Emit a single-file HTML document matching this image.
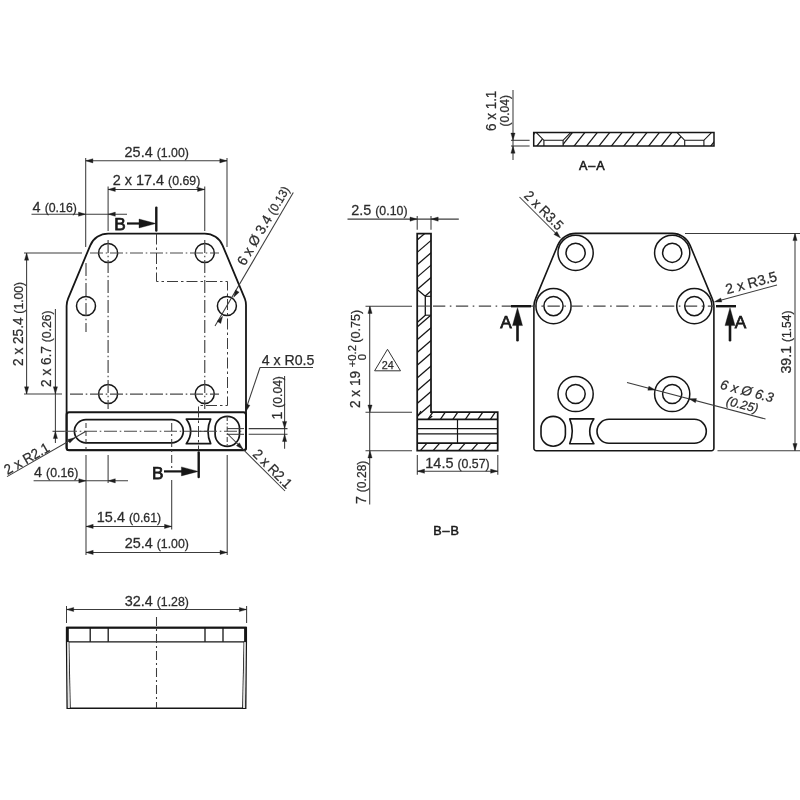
<!DOCTYPE html>
<html><head><meta charset="utf-8"><title>Dimensional drawing</title>
<style>
html,body{margin:0;padding:0;background:#fff;}
svg{display:block;font-family:"Liberation Sans",sans-serif;filter:grayscale(1);}
</style></head><body>
<svg width="800" height="800" viewBox="0 0 800 800">
<rect width="800" height="800" fill="#fff"/>
<path d="M66.60,447.70 L66.60,306.00 A19.4,19.4 0 0 1 68.09,298.53 L90.19,245.53 A19.4,19.4 0 0 1 108.10,233.60 L204.75,233.60 A19.4,19.4 0 0 1 222.66,245.53 L244.81,298.53 A19.4,19.4 0 0 1 246.00,306.00 L246.00,447.70 A2.5,2.5 0 0 1 243.50,450.20 L69.10,450.20 A2.5,2.5 0 0 1 66.60,447.70 Z" fill="none" stroke="#161616" stroke-width="1.8" stroke-linejoin="round"/>
<rect x="66.6" y="412.3" width="179.4" height="37.9" rx="2.5" ry="2.5" fill="none" stroke="#161616" stroke-width="2.0"/>
<circle cx="108.10" cy="253.00" r="9.50" fill="none" stroke="#161616" stroke-width="1.5"/>
<circle cx="204.75" cy="253.00" r="9.50" fill="none" stroke="#161616" stroke-width="1.5"/>
<circle cx="86.00" cy="306.00" r="9.50" fill="none" stroke="#161616" stroke-width="1.5"/>
<circle cx="226.90" cy="306.00" r="9.50" fill="none" stroke="#161616" stroke-width="1.5"/>
<circle cx="108.10" cy="394.00" r="9.50" fill="none" stroke="#161616" stroke-width="1.5"/>
<circle cx="204.75" cy="394.00" r="9.50" fill="none" stroke="#161616" stroke-width="1.5"/>
<path d="M86,419.6 L171.7,419.6 A11.6,11.6 0 0 1 171.7,442.8 L86,442.8 A11.6,11.6 0 0 1 86,419.6 Z" fill="none" stroke="#161616" stroke-width="1.7" stroke-linejoin="round"/>
<path d="M186.3,419.1 L210.7,419.1 Q205.2,431.4 210.7,443.7 L186.3,443.7 Q195.1,431.4 186.3,419.1 Z" fill="none" stroke="#161616" stroke-width="1.7" stroke-linejoin="round"/>
<rect x="215.1" y="416.3" width="24.4" height="30" rx="12.2" ry="12" fill="none" stroke="#161616" stroke-width="1.7"/>
<line x1="90.00" y1="253.00" x2="219.00" y2="253.00" stroke="#4a4a4a" stroke-width="1.2" stroke-dasharray="13 2.7 1.6 2.7" stroke-linecap="butt"/>
<line x1="70.00" y1="394.20" x2="219.00" y2="394.20" stroke="#4a4a4a" stroke-width="1.2" stroke-dasharray="13 2.7 1.6 2.7" stroke-linecap="butt"/>
<line x1="108.10" y1="240.00" x2="108.10" y2="409.00" stroke="#4a4a4a" stroke-width="1.2" stroke-dasharray="13 2.7 1.6 2.7" stroke-linecap="butt"/>
<line x1="204.75" y1="240.00" x2="204.75" y2="409.00" stroke="#4a4a4a" stroke-width="1.2" stroke-dasharray="13 2.7 1.6 2.7" stroke-linecap="butt"/>
<line x1="86.00" y1="263.00" x2="86.00" y2="332.00" stroke="#4a4a4a" stroke-width="1.2" stroke-dasharray="13 2.7 1.6 2.7" stroke-linecap="butt"/>
<line x1="64.00" y1="431.30" x2="244.00" y2="431.30" stroke="#4a4a4a" stroke-width="1.1" stroke-dasharray="13 2.7 1.6 2.7" stroke-linecap="butt"/>
<line x1="86.00" y1="423.00" x2="86.00" y2="450.00" stroke="#3c3c3c" stroke-width="1.05" stroke-dasharray="5 3" stroke-linecap="butt"/>
<line x1="171.70" y1="423.00" x2="171.70" y2="470.00" stroke="#3c3c3c" stroke-width="1.05" stroke-dasharray="8 3 2 3" stroke-linecap="butt"/>
<path d="M156.5,233.5 L156.5,281.5 L227.5,281.5 L227.5,405.5 L198.5,405.5 L198.5,450" fill="none" stroke="#333" stroke-width="0.95" stroke-linejoin="miter" stroke-dasharray="11 3 2.5 3"/>
<line x1="227.20" y1="416.00" x2="227.20" y2="447.00" stroke="#3c3c3c" stroke-width="1.05" stroke-dasharray="5 2 1.5 2" stroke-linecap="butt"/>
<line x1="190.00" y1="431.30" x2="208.00" y2="431.30" stroke="#3c3c3c" stroke-width="1.05" stroke-linecap="butt"/>
<line x1="156.30" y1="207.60" x2="156.30" y2="230.60" stroke="#161616" stroke-width="2.4" stroke-linecap="round"/>
<line x1="127.00" y1="223.50" x2="141.00" y2="223.50" stroke="#161616" stroke-width="2.2" stroke-linecap="butt"/>
<polygon points="156.00,223.50 139.00,228.00 139.00,219.00" fill="#161616" stroke="#161616" stroke-width="0.35" stroke-linejoin="round"/>
<text transform="translate(114.30 230.40) rotate(0)" font-style="normal" text-anchor="start" font-weight="normal" fill="#1a1a1a" stroke="#1a1a1a" stroke-width="0.75"><tspan font-size="17.2">B</tspan></text>
<line x1="198.70" y1="452.40" x2="198.70" y2="477.00" stroke="#161616" stroke-width="2.4" stroke-linecap="round"/>
<line x1="164.00" y1="471.40" x2="183.00" y2="471.40" stroke="#161616" stroke-width="2.2" stroke-linecap="butt"/>
<polygon points="198.40,471.40 181.40,475.90 181.40,466.90" fill="#161616" stroke="#161616" stroke-width="0.35" stroke-linejoin="round"/>
<text transform="translate(152.00 478.70) rotate(0)" font-style="normal" text-anchor="start" font-weight="normal" fill="#1a1a1a" stroke="#1a1a1a" stroke-width="0.75"><tspan font-size="17.2">B</tspan></text>
<line x1="85.70" y1="158.00" x2="85.70" y2="247.00" stroke="#3c3c3c" stroke-width="1.05" stroke-linecap="butt"/>
<line x1="227.00" y1="158.00" x2="227.00" y2="247.00" stroke="#3c3c3c" stroke-width="1.05" stroke-linecap="butt"/>
<line x1="85.70" y1="160.80" x2="227.00" y2="160.80" stroke="#3c3c3c" stroke-width="1.05" stroke-linecap="butt"/>
<polygon points="85.70,160.80 92.90,158.70 92.90,162.90" fill="#1e1e1e" stroke="#1e1e1e" stroke-width="0.35" stroke-linejoin="round"/>
<polygon points="227.00,160.80 219.80,162.90 219.80,158.70" fill="#1e1e1e" stroke="#1e1e1e" stroke-width="0.35" stroke-linejoin="round"/>
<text transform="translate(156.75 157.30) rotate(0) scale(1.02 1)" font-style="normal" text-anchor="middle" font-weight="normal" fill="#2c2c2c" stroke="#2c2c2c" stroke-width="0.25"><tspan font-size="14.15">25.4 </tspan><tspan font-size="12.1">(1.00)</tspan></text>
<line x1="108.10" y1="186.50" x2="108.10" y2="231.00" stroke="#3c3c3c" stroke-width="1.05" stroke-linecap="butt"/>
<line x1="204.75" y1="186.50" x2="204.75" y2="231.00" stroke="#3c3c3c" stroke-width="1.05" stroke-linecap="butt"/>
<line x1="108.10" y1="189.40" x2="204.75" y2="189.40" stroke="#3c3c3c" stroke-width="1.05" stroke-linecap="butt"/>
<polygon points="108.10,189.40 115.30,187.30 115.30,191.50" fill="#1e1e1e" stroke="#1e1e1e" stroke-width="0.35" stroke-linejoin="round"/>
<polygon points="204.75,189.40 197.55,191.50 197.55,187.30" fill="#1e1e1e" stroke="#1e1e1e" stroke-width="0.35" stroke-linejoin="round"/>
<text transform="translate(156.50 185.30) rotate(0) scale(1.02 1)" font-style="normal" text-anchor="middle" font-weight="normal" fill="#2c2c2c" stroke="#2c2c2c" stroke-width="0.25"><tspan font-size="14.15">2 x 17.4 </tspan><tspan font-size="12.1">(0.69)</tspan></text>
<line x1="31.50" y1="214.20" x2="127.00" y2="214.20" stroke="#3c3c3c" stroke-width="1.05" stroke-linecap="butt"/>
<polygon points="85.70,214.20 78.50,216.30 78.50,212.10" fill="#1e1e1e" stroke="#1e1e1e" stroke-width="0.35" stroke-linejoin="round"/>
<polygon points="108.10,214.20 115.30,212.10 115.30,216.30" fill="#1e1e1e" stroke="#1e1e1e" stroke-width="0.35" stroke-linejoin="round"/>
<text transform="translate(32.60 211.90) rotate(0) scale(1.02 1)" font-style="normal" text-anchor="start" font-weight="normal" fill="#2c2c2c" stroke="#2c2c2c" stroke-width="0.25"><tspan font-size="14.15">4 </tspan><tspan font-size="12.1">(0.16)</tspan></text>
<line x1="24.00" y1="253.00" x2="82.00" y2="253.00" stroke="#3c3c3c" stroke-width="1.05" stroke-linecap="butt"/>
<line x1="24.00" y1="394.00" x2="62.00" y2="394.00" stroke="#3c3c3c" stroke-width="1.05" stroke-linecap="butt"/>
<line x1="26.60" y1="253.00" x2="26.60" y2="394.00" stroke="#3c3c3c" stroke-width="1.05" stroke-linecap="butt"/>
<polygon points="26.60,253.00 28.70,260.20 24.50,260.20" fill="#1e1e1e" stroke="#1e1e1e" stroke-width="0.35" stroke-linejoin="round"/>
<polygon points="26.60,394.00 24.50,386.80 28.70,386.80" fill="#1e1e1e" stroke="#1e1e1e" stroke-width="0.35" stroke-linejoin="round"/>
<text transform="translate(22.70 366.00) rotate(-90) scale(0.965 1)" font-style="normal" text-anchor="start" font-weight="normal" fill="#2c2c2c" stroke="#2c2c2c" stroke-width="0.25"><tspan font-size="14.15">2 x 25.4 </tspan><tspan font-size="12.6">(1.00)</tspan></text>
<line x1="52.50" y1="431.30" x2="64.00" y2="431.30" stroke="#3c3c3c" stroke-width="1.05" stroke-linecap="butt"/>
<line x1="55.40" y1="309.00" x2="55.40" y2="443.00" stroke="#3c3c3c" stroke-width="1.05" stroke-linecap="butt"/>
<polygon points="55.40,394.00 53.30,386.80 57.50,386.80" fill="#1e1e1e" stroke="#1e1e1e" stroke-width="0.35" stroke-linejoin="round"/>
<polygon points="55.40,431.30 57.50,438.50 53.30,438.50" fill="#1e1e1e" stroke="#1e1e1e" stroke-width="0.35" stroke-linejoin="round"/>
<text transform="translate(50.70 387.00) rotate(-90) scale(0.965 1)" font-style="normal" text-anchor="start" font-weight="normal" fill="#2c2c2c" stroke="#2c2c2c" stroke-width="0.25"><tspan font-size="14.15">2 x 6.7 </tspan><tspan font-size="12.6">(0.26)</tspan></text>
<line x1="86.00" y1="455.00" x2="86.00" y2="555.00" stroke="#3c3c3c" stroke-width="1.05" stroke-linecap="butt"/>
<line x1="108.10" y1="455.00" x2="108.10" y2="483.00" stroke="#3c3c3c" stroke-width="1.05" stroke-linecap="butt"/>
<line x1="171.70" y1="480.00" x2="171.70" y2="529.60" stroke="#3c3c3c" stroke-width="1.05" stroke-linecap="butt"/>
<line x1="227.20" y1="455.00" x2="227.20" y2="555.00" stroke="#3c3c3c" stroke-width="1.05" stroke-linecap="butt"/>
<line x1="33.60" y1="480.80" x2="128.00" y2="480.80" stroke="#3c3c3c" stroke-width="1.05" stroke-linecap="butt"/>
<polygon points="86.00,480.80 78.80,482.90 78.80,478.70" fill="#1e1e1e" stroke="#1e1e1e" stroke-width="0.35" stroke-linejoin="round"/>
<polygon points="108.10,480.80 115.30,478.70 115.30,482.90" fill="#1e1e1e" stroke="#1e1e1e" stroke-width="0.35" stroke-linejoin="round"/>
<text transform="translate(34.00 477.30) rotate(0) scale(1.02 1)" font-style="normal" text-anchor="start" font-weight="normal" fill="#2c2c2c" stroke="#2c2c2c" stroke-width="0.25"><tspan font-size="14.15">4 </tspan><tspan font-size="12.1">(0.16)</tspan></text>
<line x1="86.00" y1="526.40" x2="171.70" y2="526.40" stroke="#3c3c3c" stroke-width="1.05" stroke-linecap="butt"/>
<polygon points="86.00,526.40 93.20,524.30 93.20,528.50" fill="#1e1e1e" stroke="#1e1e1e" stroke-width="0.35" stroke-linejoin="round"/>
<polygon points="171.70,526.40 164.50,528.50 164.50,524.30" fill="#1e1e1e" stroke="#1e1e1e" stroke-width="0.35" stroke-linejoin="round"/>
<text transform="translate(129.00 522.30) rotate(0) scale(1.02 1)" font-style="normal" text-anchor="middle" font-weight="normal" fill="#2c2c2c" stroke="#2c2c2c" stroke-width="0.25"><tspan font-size="14.15">15.4 </tspan><tspan font-size="12.1">(0.61)</tspan></text>
<line x1="86.00" y1="552.40" x2="227.20" y2="552.40" stroke="#3c3c3c" stroke-width="1.05" stroke-linecap="butt"/>
<polygon points="86.00,552.40 93.20,550.30 93.20,554.50" fill="#1e1e1e" stroke="#1e1e1e" stroke-width="0.35" stroke-linejoin="round"/>
<polygon points="227.20,552.40 220.00,554.50 220.00,550.30" fill="#1e1e1e" stroke="#1e1e1e" stroke-width="0.35" stroke-linejoin="round"/>
<text transform="translate(156.80 547.90) rotate(0) scale(1.02 1)" font-style="normal" text-anchor="middle" font-weight="normal" fill="#2c2c2c" stroke="#2c2c2c" stroke-width="0.25"><tspan font-size="14.15">25.4 </tspan><tspan font-size="12.1">(1.00)</tspan></text>
<line x1="227.20" y1="428.60" x2="244.00" y2="428.60" stroke="#3c3c3c" stroke-width="1.05" stroke-linecap="butt"/>
<line x1="227.20" y1="434.30" x2="244.00" y2="434.30" stroke="#3c3c3c" stroke-width="1.05" stroke-linecap="butt"/>
<line x1="248.70" y1="428.60" x2="287.50" y2="428.60" stroke="#3c3c3c" stroke-width="1.05" stroke-linecap="butt"/>
<line x1="248.70" y1="434.30" x2="287.50" y2="434.30" stroke="#3c3c3c" stroke-width="1.05" stroke-linecap="butt"/>
<line x1="284.60" y1="376.00" x2="284.60" y2="448.70" stroke="#3c3c3c" stroke-width="1.05" stroke-linecap="butt"/>
<polygon points="284.60,428.60 282.50,421.40 286.70,421.40" fill="#1e1e1e" stroke="#1e1e1e" stroke-width="0.35" stroke-linejoin="round"/>
<polygon points="284.60,434.30 286.70,441.50 282.50,441.50" fill="#1e1e1e" stroke="#1e1e1e" stroke-width="0.35" stroke-linejoin="round"/>
<text transform="translate(282.00 419.50) rotate(-90)" font-style="normal" text-anchor="start" font-weight="normal" fill="#2c2c2c" stroke="#2c2c2c" stroke-width="0.25"><tspan font-size="14.15">1 </tspan><tspan font-size="12.1">(0.04)</tspan></text>
<line x1="260.00" y1="367.50" x2="313.00" y2="367.50" stroke="#3c3c3c" stroke-width="1.05" stroke-linecap="butt"/>
<line x1="260.00" y1="367.50" x2="247.00" y2="406.00" stroke="#3c3c3c" stroke-width="1.05" stroke-linecap="butt"/>
<polygon points="245.90,411.60 245.87,404.10 249.90,405.26" fill="#1e1e1e" stroke="#1e1e1e" stroke-width="0.35" stroke-linejoin="round"/>
<text transform="translate(261.70 364.50) rotate(0)" font-style="normal" text-anchor="start" font-weight="normal" fill="#2c2c2c" stroke="#2c2c2c" stroke-width="0.25"><tspan font-size="14.15">4 x R0.5</tspan></text>
<line x1="7.00" y1="476.60" x2="86.00" y2="431.30" stroke="#3c3c3c" stroke-width="1.05" stroke-linecap="butt"/>
<polygon points="75.00,437.70 69.80,443.10 67.71,439.46" fill="#1e1e1e" stroke="#1e1e1e" stroke-width="0.35" stroke-linejoin="round"/>
<text transform="translate(7.60 475.10) rotate(-29.8) scale(0.94 1)" font-style="normal" text-anchor="start" font-weight="normal" fill="#2c2c2c" stroke="#2c2c2c" stroke-width="0.25"><tspan font-size="14.15">2 x R2.1</tspan></text>
<line x1="227.20" y1="433.50" x2="285.00" y2="491.00" stroke="#3c3c3c" stroke-width="1.05" stroke-linecap="butt"/>
<polygon points="243.00,449.30 236.42,445.69 239.39,442.72" fill="#1e1e1e" stroke="#1e1e1e" stroke-width="0.35" stroke-linejoin="round"/>
<text transform="translate(252.00 455.00) rotate(45) scale(0.925 1)" font-style="normal" text-anchor="start" font-weight="normal" fill="#2c2c2c" stroke="#2c2c2c" stroke-width="0.25"><tspan font-size="14.15">2 x R2.1</tspan></text>
<line x1="293.30" y1="192.50" x2="215.00" y2="326.00" stroke="#3c3c3c" stroke-width="1.05" stroke-linecap="butt"/>
<polygon points="233.70,297.30 235.53,290.03 239.15,292.15" fill="#1e1e1e" stroke="#1e1e1e" stroke-width="0.35" stroke-linejoin="round"/>
<polygon points="222.60,316.20 220.77,323.47 217.15,321.35" fill="#1e1e1e" stroke="#1e1e1e" stroke-width="0.35" stroke-linejoin="round"/>
<text transform="translate(244.80 266.40) rotate(-59.6) scale(0.96 1)" font-style="normal" text-anchor="start" font-weight="normal" fill="#2c2c2c" stroke="#2c2c2c" stroke-width="0.25"><tspan font-size="14.15">6 x Ø 3.4 </tspan><tspan font-size="12.1">(0.13)</tspan></text>
<path d="M533.90,448.20 L533.90,306.10 A19.4,19.4 0 0 1 535.58,298.67 L557.68,245.37 A19.4,19.4 0 0 1 575.60,233.40 L672.20,233.40 A19.4,19.4 0 0 1 690.12,245.37 L712.22,298.67 A19.4,19.4 0 0 1 713.90,306.10 L713.90,448.20 A2.5,2.5 0 0 1 711.40,450.70 L536.40,450.70 A2.5,2.5 0 0 1 533.90,448.20 Z" fill="none" stroke="#161616" stroke-width="1.6" stroke-linejoin="round"/>
<circle cx="575.60" cy="252.80" r="17.60" fill="none" stroke="#161616" stroke-width="1.5"/>
<circle cx="575.60" cy="252.80" r="9.60" fill="none" stroke="#161616" stroke-width="1.5"/>
<circle cx="672.20" cy="252.80" r="17.60" fill="none" stroke="#161616" stroke-width="1.5"/>
<circle cx="672.20" cy="252.80" r="9.60" fill="none" stroke="#161616" stroke-width="1.5"/>
<circle cx="553.50" cy="306.10" r="17.60" fill="none" stroke="#161616" stroke-width="1.5"/>
<circle cx="553.50" cy="306.10" r="9.60" fill="none" stroke="#161616" stroke-width="1.5"/>
<circle cx="694.30" cy="306.10" r="17.60" fill="none" stroke="#161616" stroke-width="1.5"/>
<circle cx="694.30" cy="306.10" r="9.60" fill="none" stroke="#161616" stroke-width="1.5"/>
<circle cx="575.60" cy="394.00" r="17.60" fill="none" stroke="#161616" stroke-width="1.5"/>
<circle cx="575.60" cy="394.00" r="9.60" fill="none" stroke="#161616" stroke-width="1.5"/>
<circle cx="672.20" cy="394.00" r="17.60" fill="none" stroke="#161616" stroke-width="1.5"/>
<circle cx="672.20" cy="394.00" r="9.60" fill="none" stroke="#161616" stroke-width="1.5"/>
<path d="M609,419.3 L694.3,419.3 A12,12 0 0 1 694.3,443.3 L609,443.3 A12,12 0 0 1 609,419.3 Z" fill="none" stroke="#161616" stroke-width="1.6" stroke-linejoin="round"/>
<path d="M569.7,418.9 L593.9,418.9 Q585.5,431.3 593.9,443.8 L569.7,443.8 Q574.9,431.3 569.7,418.9 Z" fill="none" stroke="#161616" stroke-width="1.6" stroke-linejoin="round"/>
<rect x="541.0" y="416.4" width="24.4" height="29.8" rx="12.2" ry="12" fill="none" stroke="#161616" stroke-width="1.6"/>
<line x1="433.00" y1="306.10" x2="714.00" y2="306.10" stroke="#444" stroke-width="1.05" stroke-dasharray="12.3 4.5 1.6 4.5" stroke-linecap="butt"/>
<line x1="511.00" y1="306.20" x2="531.00" y2="306.20" stroke="#161616" stroke-width="2.4" stroke-linecap="butt"/>
<line x1="517.50" y1="322.00" x2="517.50" y2="340.30" stroke="#161616" stroke-width="2.6" stroke-linecap="round"/>
<polygon points="517.50,307.60 522.50,325.60 512.50,325.60" fill="#161616" stroke="#161616" stroke-width="0.35" stroke-linejoin="round"/>
<text transform="translate(500.30 327.70) rotate(0)" font-style="normal" text-anchor="start" font-weight="normal" fill="#1a1a1a" stroke="#1a1a1a" stroke-width="0.75"><tspan font-size="17.2">A</tspan></text>
<line x1="716.00" y1="306.20" x2="736.00" y2="306.20" stroke="#161616" stroke-width="2.4" stroke-linecap="butt"/>
<line x1="730.00" y1="322.00" x2="730.00" y2="340.30" stroke="#161616" stroke-width="2.6" stroke-linecap="round"/>
<polygon points="730.00,307.60 735.00,325.60 725.00,325.60" fill="#161616" stroke="#161616" stroke-width="0.35" stroke-linejoin="round"/>
<text transform="translate(734.80 327.70) rotate(0)" font-style="normal" text-anchor="start" font-weight="normal" fill="#1a1a1a" stroke="#1a1a1a" stroke-width="0.75"><tspan font-size="17.2">A</tspan></text>
<line x1="685.00" y1="233.40" x2="800.00" y2="233.40" stroke="#3c3c3c" stroke-width="1.05" stroke-linecap="butt"/>
<line x1="717.50" y1="450.80" x2="800.00" y2="450.80" stroke="#3c3c3c" stroke-width="1.05" stroke-linecap="butt"/>
<line x1="795.00" y1="233.40" x2="795.00" y2="450.80" stroke="#3c3c3c" stroke-width="1.05" stroke-linecap="butt"/>
<polygon points="795.00,233.40 797.10,240.60 792.90,240.60" fill="#1e1e1e" stroke="#1e1e1e" stroke-width="0.35" stroke-linejoin="round"/>
<polygon points="795.00,450.80 792.90,443.60 797.10,443.60" fill="#1e1e1e" stroke="#1e1e1e" stroke-width="0.35" stroke-linejoin="round"/>
<text transform="translate(791.20 342.00) rotate(-90)" font-style="normal" text-anchor="middle" font-weight="normal" fill="#2c2c2c" stroke="#2c2c2c" stroke-width="0.25"><tspan font-size="14.15">39.1 </tspan><tspan font-size="12.1">(1.54)</tspan></text>
<line x1="519.50" y1="197.00" x2="558.00" y2="235.50" stroke="#3c3c3c" stroke-width="1.05" stroke-linecap="butt"/>
<polygon points="560.50,238.00 553.92,234.39 556.89,231.42" fill="#1e1e1e" stroke="#1e1e1e" stroke-width="0.35" stroke-linejoin="round"/>
<text transform="translate(523.30 196.60) rotate(45) scale(0.925 1)" font-style="normal" text-anchor="start" font-weight="normal" fill="#2c2c2c" stroke="#2c2c2c" stroke-width="0.25"><tspan font-size="14.15">2 x R3.5</tspan></text>
<line x1="777.00" y1="285.00" x2="716.00" y2="301.50" stroke="#3c3c3c" stroke-width="1.05" stroke-linecap="butt"/>
<polygon points="714.30,301.90 720.71,298.01 721.80,302.06" fill="#1e1e1e" stroke="#1e1e1e" stroke-width="0.35" stroke-linejoin="round"/>
<text transform="translate(727.00 294.30) rotate(-15)" font-style="normal" text-anchor="start" font-weight="normal" fill="#2c2c2c" stroke="#2c2c2c" stroke-width="0.25"><tspan font-size="14.15">2 x R3.5</tspan></text>
<line x1="627.00" y1="382.50" x2="765.50" y2="419.00" stroke="#3c3c3c" stroke-width="1.05" stroke-linecap="butt"/>
<polygon points="655.30,390.00 647.80,390.19 648.88,386.13" fill="#1e1e1e" stroke="#1e1e1e" stroke-width="0.35" stroke-linejoin="round"/>
<polygon points="689.00,398.80 696.50,398.61 695.42,402.67" fill="#1e1e1e" stroke="#1e1e1e" stroke-width="0.35" stroke-linejoin="round"/>
<text transform="translate(719.60 388.60) rotate(14.8)" font-style="italic" text-anchor="start" font-weight="normal" fill="#2c2c2c" stroke="#2c2c2c" stroke-width="0.25"><tspan font-size="13.4">6 x Ø 6.3</tspan></text>
<text transform="translate(725.60 404.60) rotate(14.8)" font-style="italic" text-anchor="start" font-weight="normal" fill="#2c2c2c" stroke="#2c2c2c" stroke-width="0.25"><tspan font-size="12.4">(0.25)</tspan></text>
<path d="M417.2,233.6 L431.0,233.6 L431.0,412.2 L497.7,412.2 L497.7,450.5 L417.2,450.5 Z" fill="none" stroke="#161616" stroke-width="1.75" stroke-linejoin="miter"/>
<line x1="417.20" y1="419.40" x2="497.70" y2="419.40" stroke="#161616" stroke-width="1.9" stroke-linecap="butt"/>
<line x1="417.20" y1="443.10" x2="497.70" y2="443.10" stroke="#161616" stroke-width="1.9" stroke-linecap="butt"/>
<line x1="417.20" y1="428.70" x2="497.70" y2="428.70" stroke="#161616" stroke-width="1.3" stroke-linecap="butt"/>
<line x1="417.20" y1="433.90" x2="497.70" y2="433.90" stroke="#161616" stroke-width="1.3" stroke-linecap="butt"/>
<line x1="457.50" y1="419.40" x2="457.50" y2="443.10" stroke="#161616" stroke-width="1.2" stroke-linecap="butt"/>
<path d="M417.2,289.4 L425.3,296.3 L425.3,315.2 L417.2,322.6" fill="none" stroke="#161616" stroke-width="1.3" stroke-linejoin="miter"/>
<line x1="425.00" y1="296.30" x2="431.00" y2="296.30" stroke="#161616" stroke-width="1.1" stroke-linecap="butt"/>
<line x1="425.00" y1="315.20" x2="431.00" y2="315.20" stroke="#161616" stroke-width="1.1" stroke-linecap="butt"/>
<clipPath id="cpB1"><path d="M417.2,233.6 L431.0,233.6 L431.0,296.3 L425,296.3 L417.2,289.4 Z M417.2,322.6 L425,315.2 L431.0,315.2 L431.0,412.2 L497.7,412.2 L497.7,419.4 L417.2,419.4 Z M417.2,443.1 L497.7,443.1 L497.7,450.5 L417.2,450.5 Z"/></clipPath>
<g clip-path="url(#cpB1)">
<line x1="416.20" y1="228.51" x2="432.20" y2="214.75" stroke="#161616" stroke-width="1.25" stroke-linecap="butt"/>
<line x1="416.20" y1="240.86" x2="432.20" y2="227.10" stroke="#161616" stroke-width="1.25" stroke-linecap="butt"/>
<line x1="416.20" y1="253.21" x2="432.20" y2="239.45" stroke="#161616" stroke-width="1.25" stroke-linecap="butt"/>
<line x1="416.20" y1="265.56" x2="432.20" y2="251.80" stroke="#161616" stroke-width="1.25" stroke-linecap="butt"/>
<line x1="416.20" y1="277.91" x2="432.20" y2="264.15" stroke="#161616" stroke-width="1.25" stroke-linecap="butt"/>
<line x1="416.20" y1="290.26" x2="432.20" y2="276.50" stroke="#161616" stroke-width="1.25" stroke-linecap="butt"/>
<line x1="416.20" y1="327.76" x2="432.20" y2="314.00" stroke="#161616" stroke-width="1.25" stroke-linecap="butt"/>
<line x1="416.20" y1="340.52" x2="432.20" y2="326.76" stroke="#161616" stroke-width="1.25" stroke-linecap="butt"/>
<line x1="416.20" y1="353.28" x2="432.20" y2="339.52" stroke="#161616" stroke-width="1.25" stroke-linecap="butt"/>
<line x1="416.20" y1="366.04" x2="432.20" y2="352.28" stroke="#161616" stroke-width="1.25" stroke-linecap="butt"/>
<line x1="416.20" y1="378.80" x2="432.20" y2="365.04" stroke="#161616" stroke-width="1.25" stroke-linecap="butt"/>
<line x1="416.20" y1="391.56" x2="432.20" y2="377.80" stroke="#161616" stroke-width="1.25" stroke-linecap="butt"/>
<line x1="416.20" y1="404.32" x2="432.20" y2="390.56" stroke="#161616" stroke-width="1.25" stroke-linecap="butt"/>
<line x1="416.20" y1="417.08" x2="432.20" y2="403.32" stroke="#161616" stroke-width="1.25" stroke-linecap="butt"/>
<line x1="416.20" y1="429.84" x2="432.20" y2="416.08" stroke="#161616" stroke-width="1.25" stroke-linecap="butt"/>
<line x1="425.00" y1="296.30" x2="431.00" y2="291.00" stroke="#161616" stroke-width="1.25" stroke-linecap="butt"/>
<line x1="402.20" y1="420.40" x2="408.50" y2="411.20" stroke="#161616" stroke-width="1.25" stroke-linecap="butt"/>
<line x1="394.10" y1="451.50" x2="402.40" y2="442.10" stroke="#161616" stroke-width="1.25" stroke-linecap="butt"/>
<line x1="414.70" y1="420.40" x2="421.00" y2="411.20" stroke="#161616" stroke-width="1.25" stroke-linecap="butt"/>
<line x1="406.85" y1="451.50" x2="415.15" y2="442.10" stroke="#161616" stroke-width="1.25" stroke-linecap="butt"/>
<line x1="427.20" y1="420.40" x2="433.50" y2="411.20" stroke="#161616" stroke-width="1.25" stroke-linecap="butt"/>
<line x1="419.60" y1="451.50" x2="427.90" y2="442.10" stroke="#161616" stroke-width="1.25" stroke-linecap="butt"/>
<line x1="439.70" y1="420.40" x2="446.00" y2="411.20" stroke="#161616" stroke-width="1.25" stroke-linecap="butt"/>
<line x1="432.35" y1="451.50" x2="440.65" y2="442.10" stroke="#161616" stroke-width="1.25" stroke-linecap="butt"/>
<line x1="452.20" y1="420.40" x2="458.50" y2="411.20" stroke="#161616" stroke-width="1.25" stroke-linecap="butt"/>
<line x1="445.10" y1="451.50" x2="453.40" y2="442.10" stroke="#161616" stroke-width="1.25" stroke-linecap="butt"/>
<line x1="464.70" y1="420.40" x2="471.00" y2="411.20" stroke="#161616" stroke-width="1.25" stroke-linecap="butt"/>
<line x1="457.85" y1="451.50" x2="466.15" y2="442.10" stroke="#161616" stroke-width="1.25" stroke-linecap="butt"/>
<line x1="477.20" y1="420.40" x2="483.50" y2="411.20" stroke="#161616" stroke-width="1.25" stroke-linecap="butt"/>
<line x1="470.60" y1="451.50" x2="478.90" y2="442.10" stroke="#161616" stroke-width="1.25" stroke-linecap="butt"/>
<line x1="489.70" y1="420.40" x2="496.00" y2="411.20" stroke="#161616" stroke-width="1.25" stroke-linecap="butt"/>
<line x1="483.35" y1="451.50" x2="491.65" y2="442.10" stroke="#161616" stroke-width="1.25" stroke-linecap="butt"/>
<line x1="502.20" y1="420.40" x2="508.50" y2="411.20" stroke="#161616" stroke-width="1.25" stroke-linecap="butt"/>
<line x1="496.10" y1="451.50" x2="504.40" y2="442.10" stroke="#161616" stroke-width="1.25" stroke-linecap="butt"/>
<line x1="514.70" y1="420.40" x2="521.00" y2="411.20" stroke="#161616" stroke-width="1.25" stroke-linecap="butt"/>
<line x1="508.85" y1="451.50" x2="517.15" y2="442.10" stroke="#161616" stroke-width="1.25" stroke-linecap="butt"/>
<line x1="527.20" y1="420.40" x2="533.50" y2="411.20" stroke="#161616" stroke-width="1.25" stroke-linecap="butt"/>
<line x1="521.60" y1="451.50" x2="529.90" y2="442.10" stroke="#161616" stroke-width="1.25" stroke-linecap="butt"/>
</g>
<line x1="417.30" y1="455.00" x2="417.30" y2="474.80" stroke="#3c3c3c" stroke-width="1.05" stroke-linecap="butt"/>
<line x1="497.80" y1="455.00" x2="497.80" y2="474.80" stroke="#3c3c3c" stroke-width="1.05" stroke-linecap="butt"/>
<line x1="417.30" y1="471.20" x2="497.80" y2="471.20" stroke="#3c3c3c" stroke-width="1.05" stroke-linecap="butt"/>
<polygon points="417.30,471.20 424.50,469.10 424.50,473.30" fill="#1e1e1e" stroke="#1e1e1e" stroke-width="0.35" stroke-linejoin="round"/>
<polygon points="497.80,471.20 490.60,473.30 490.60,469.10" fill="#1e1e1e" stroke="#1e1e1e" stroke-width="0.35" stroke-linejoin="round"/>
<text transform="translate(457.50 468.00) rotate(0) scale(1.02 1)" font-style="normal" text-anchor="middle" font-weight="normal" fill="#2c2c2c" stroke="#2c2c2c" stroke-width="0.25"><tspan font-size="14.15">14.5 </tspan><tspan font-size="12.1">(0.57)</tspan></text>
<line x1="417.20" y1="216.00" x2="417.20" y2="229.80" stroke="#3c3c3c" stroke-width="1.05" stroke-linecap="butt"/>
<line x1="431.00" y1="216.00" x2="431.00" y2="229.80" stroke="#3c3c3c" stroke-width="1.05" stroke-linecap="butt"/>
<line x1="347.50" y1="219.10" x2="458.80" y2="219.10" stroke="#3c3c3c" stroke-width="1.05" stroke-linecap="butt"/>
<polygon points="417.20,219.10 410.00,221.20 410.00,217.00" fill="#1e1e1e" stroke="#1e1e1e" stroke-width="0.35" stroke-linejoin="round"/>
<polygon points="431.00,219.10 438.20,217.00 438.20,221.20" fill="#1e1e1e" stroke="#1e1e1e" stroke-width="0.35" stroke-linejoin="round"/>
<text transform="translate(351.20 215.30) rotate(0) scale(1.02 1)" font-style="normal" text-anchor="start" font-weight="normal" fill="#2c2c2c" stroke="#2c2c2c" stroke-width="0.25"><tspan font-size="14.15">2.5 </tspan><tspan font-size="12.1">(0.10)</tspan></text>
<line x1="365.50" y1="306.20" x2="412.00" y2="306.20" stroke="#3c3c3c" stroke-width="1.05" stroke-linecap="butt"/>
<line x1="365.50" y1="412.20" x2="412.00" y2="412.20" stroke="#3c3c3c" stroke-width="1.05" stroke-linecap="butt"/>
<line x1="365.50" y1="450.70" x2="412.00" y2="450.70" stroke="#3c3c3c" stroke-width="1.05" stroke-linecap="butt"/>
<line x1="369.70" y1="306.20" x2="369.70" y2="504.50" stroke="#3c3c3c" stroke-width="1.05" stroke-linecap="butt"/>
<polygon points="370.00,306.20 372.10,313.40 367.90,313.40" fill="#1e1e1e" stroke="#1e1e1e" stroke-width="0.35" stroke-linejoin="round"/>
<polygon points="370.00,412.20 367.90,405.00 372.10,405.00" fill="#1e1e1e" stroke="#1e1e1e" stroke-width="0.35" stroke-linejoin="round"/>
<polygon points="370.00,450.70 372.10,457.90 367.90,457.90" fill="#1e1e1e" stroke="#1e1e1e" stroke-width="0.35" stroke-linejoin="round"/>
<text transform="translate(360.00 408.00) rotate(-90) scale(0.96 1)" font-style="normal" text-anchor="start" font-weight="normal" fill="#2c2c2c" stroke="#2c2c2c" stroke-width="0.25"><tspan font-size="14.15">2 x 19</tspan></text>
<text transform="translate(356.40 367.30) rotate(-90)" font-style="normal" text-anchor="start" font-weight="normal" fill="#2c2c2c" stroke="#2c2c2c" stroke-width="0.25"><tspan font-size="11.3">+0.2</tspan></text>
<text transform="translate(366.20 360.30) rotate(-90)" font-style="normal" text-anchor="start" font-weight="normal" fill="#2c2c2c" stroke="#2c2c2c" stroke-width="0.25"><tspan font-size="11.3">0</tspan></text>
<text transform="translate(360.00 342.80) rotate(-90)" font-style="normal" text-anchor="start" font-weight="normal" fill="#2c2c2c" stroke="#2c2c2c" stroke-width="0.25"><tspan font-size="12.6">(0.75)</tspan></text>
<text transform="translate(366.30 504.00) rotate(-90)" font-style="normal" text-anchor="start" font-weight="normal" fill="#2c2c2c" stroke="#2c2c2c" stroke-width="0.25"><tspan font-size="14.15">7 </tspan><tspan font-size="12.1">(0.28)</tspan></text>
<path d="M387.5,349.3 L400.5,370.8 L374.6,370.8 Z" fill="none" stroke="#333" stroke-width="1.0" stroke-linejoin="miter"/>
<text transform="translate(387.70 369.00) rotate(0)" font-style="normal" text-anchor="middle" font-weight="normal" fill="#2c2c2c" stroke="#2c2c2c" stroke-width="0.25"><tspan font-size="10.8">24</tspan></text>
<text transform="translate(446.50 535.30) rotate(0)" font-style="normal" text-anchor="middle" font-weight="normal" fill="#1a1a1a" stroke="#1a1a1a" stroke-width="0.55" letter-spacing="0.9"><tspan font-size="12.6">B–B</tspan></text>
<line x1="418.00" y1="306.10" x2="430.00" y2="306.10" stroke="#444" stroke-width="1.05" stroke-linecap="butt"/>
<path d="M533.7,132.4 L714.0,132.4 L714.0,146.0 L533.7,146.0 Z" fill="none" stroke="#161616" stroke-width="1.5" stroke-linejoin="miter"/>
<path d="M536.1,132.4 L543.9,140.3 L563.1,140.3 L570.9,132.4" fill="none" stroke="#161616" stroke-width="1.1" stroke-linejoin="miter"/>
<line x1="543.90" y1="140.30" x2="543.90" y2="146.00" stroke="#161616" stroke-width="1.1" stroke-linecap="butt"/>
<line x1="563.10" y1="140.30" x2="563.10" y2="146.00" stroke="#161616" stroke-width="1.1" stroke-linecap="butt"/>
<path d="M676.9,132.4 L684.6999999999999,140.3 L703.9,140.3 L711.6999999999999,132.4" fill="none" stroke="#161616" stroke-width="1.1" stroke-linejoin="miter"/>
<line x1="684.70" y1="140.30" x2="684.70" y2="146.00" stroke="#161616" stroke-width="1.1" stroke-linecap="butt"/>
<line x1="703.90" y1="140.30" x2="703.90" y2="146.00" stroke="#161616" stroke-width="1.1" stroke-linecap="butt"/>
<clipPath id="cpA"><path d="M563.1,140.3 L570.9,132.4 L676.9,132.4 L684.6999999999999,140.3 L684.6999999999999,146.0 L563.1,146.0 Z M533.7,132.4 L543.9,140.3 L543.9,146.0 L533.7,146.0 Z M714.0,132.4 L703.9,140.3 L703.9,146.0 L714.0,146.0 Z"/></clipPath>
<g clip-path="url(#cpA)">
<line x1="511.67" y1="146.50" x2="523.27" y2="131.90" stroke="#161616" stroke-width="1.25" stroke-linecap="butt"/>
<line x1="524.09" y1="146.50" x2="535.69" y2="131.90" stroke="#161616" stroke-width="1.25" stroke-linecap="butt"/>
<line x1="536.51" y1="146.50" x2="548.11" y2="131.90" stroke="#161616" stroke-width="1.25" stroke-linecap="butt"/>
<line x1="548.93" y1="146.50" x2="560.53" y2="131.90" stroke="#161616" stroke-width="1.25" stroke-linecap="butt"/>
<line x1="561.35" y1="146.50" x2="572.95" y2="131.90" stroke="#161616" stroke-width="1.25" stroke-linecap="butt"/>
<line x1="573.77" y1="146.50" x2="585.37" y2="131.90" stroke="#161616" stroke-width="1.25" stroke-linecap="butt"/>
<line x1="586.19" y1="146.50" x2="597.79" y2="131.90" stroke="#161616" stroke-width="1.25" stroke-linecap="butt"/>
<line x1="598.61" y1="146.50" x2="610.21" y2="131.90" stroke="#161616" stroke-width="1.25" stroke-linecap="butt"/>
<line x1="611.03" y1="146.50" x2="622.63" y2="131.90" stroke="#161616" stroke-width="1.25" stroke-linecap="butt"/>
<line x1="623.45" y1="146.50" x2="635.05" y2="131.90" stroke="#161616" stroke-width="1.25" stroke-linecap="butt"/>
<line x1="635.87" y1="146.50" x2="647.47" y2="131.90" stroke="#161616" stroke-width="1.25" stroke-linecap="butt"/>
<line x1="648.29" y1="146.50" x2="659.89" y2="131.90" stroke="#161616" stroke-width="1.25" stroke-linecap="butt"/>
<line x1="660.71" y1="146.50" x2="672.31" y2="131.90" stroke="#161616" stroke-width="1.25" stroke-linecap="butt"/>
<line x1="673.13" y1="146.50" x2="684.73" y2="131.90" stroke="#161616" stroke-width="1.25" stroke-linecap="butt"/>
<line x1="685.55" y1="146.50" x2="697.15" y2="131.90" stroke="#161616" stroke-width="1.25" stroke-linecap="butt"/>
<line x1="697.97" y1="146.50" x2="709.57" y2="131.90" stroke="#161616" stroke-width="1.25" stroke-linecap="butt"/>
<line x1="710.39" y1="146.50" x2="721.99" y2="131.90" stroke="#161616" stroke-width="1.25" stroke-linecap="butt"/>
<line x1="722.81" y1="146.50" x2="734.41" y2="131.90" stroke="#161616" stroke-width="1.25" stroke-linecap="butt"/>
</g>
<text transform="translate(592.30 170.30) rotate(0)" font-style="normal" text-anchor="middle" font-weight="normal" fill="#1a1a1a" stroke="#1a1a1a" stroke-width="0.55" letter-spacing="0.9"><tspan font-size="12.6">A–A</tspan></text>
<line x1="511.00" y1="140.30" x2="529.60" y2="140.30" stroke="#3c3c3c" stroke-width="1.05" stroke-linecap="butt"/>
<line x1="511.00" y1="146.00" x2="529.60" y2="146.00" stroke="#3c3c3c" stroke-width="1.05" stroke-linecap="butt"/>
<line x1="513.00" y1="90.00" x2="513.00" y2="160.00" stroke="#3c3c3c" stroke-width="1.05" stroke-linecap="butt"/>
<polygon points="513.00,140.30 510.90,133.10 515.10,133.10" fill="#1e1e1e" stroke="#1e1e1e" stroke-width="0.35" stroke-linejoin="round"/>
<polygon points="513.00,146.00 515.10,153.20 510.90,153.20" fill="#1e1e1e" stroke="#1e1e1e" stroke-width="0.35" stroke-linejoin="round"/>
<text transform="translate(495.60 131.00) rotate(-90) scale(0.95 1)" font-style="normal" text-anchor="start" font-weight="normal" fill="#2c2c2c" stroke="#2c2c2c" stroke-width="0.25"><tspan font-size="14.15">6 x 1.1</tspan></text>
<text transform="translate(509.00 126.50) rotate(-90)" font-style="normal" text-anchor="start" font-weight="normal" fill="#2c2c2c" stroke="#2c2c2c" stroke-width="0.25"><tspan font-size="12.1">(0.04)</tspan></text>
<path d="M66.6,627.6 L246.3,627.6 L246.3,641.8 L245.7,708.3 L67.2,708.3 L66.6,641.8 Z" fill="none" stroke="#161616" stroke-width="1.5" stroke-linejoin="miter"/>
<line x1="66.60" y1="627.80" x2="246.30" y2="627.80" stroke="#161616" stroke-width="1.9" stroke-linecap="butt"/>
<line x1="66.60" y1="641.80" x2="246.30" y2="641.80" stroke="#161616" stroke-width="1.3" stroke-linecap="butt"/>
<line x1="90.20" y1="627.60" x2="90.20" y2="641.80" stroke="#161616" stroke-width="1.3" stroke-linecap="butt"/>
<line x1="108.20" y1="627.60" x2="108.20" y2="641.80" stroke="#161616" stroke-width="1.3" stroke-linecap="butt"/>
<line x1="205.00" y1="627.60" x2="205.00" y2="641.80" stroke="#161616" stroke-width="1.3" stroke-linecap="butt"/>
<line x1="223.00" y1="627.60" x2="223.00" y2="641.80" stroke="#161616" stroke-width="1.3" stroke-linecap="butt"/>
<rect x="66.2" y="627.6" width="2.6" height="14.2" fill="#161616"/>
<rect x="244.1" y="627.6" width="2.6" height="14.2" fill="#161616"/>
<path d="M68.8,641.8 L70.2,708.3" fill="none" stroke="#161616" stroke-width="1.1" stroke-linejoin="round"/>
<path d="M244.1,641.8 L242.7,708.3" fill="none" stroke="#161616" stroke-width="1.1" stroke-linejoin="round"/>
<path d="M67.2,642 L68.6,642 L69.8,708 L67.8,708 Z" fill="#e4e4e4"/>
<path d="M245.7,642 L244.3,642 L243.1,708 L245.1,708 Z" fill="#e4e4e4"/>
<line x1="156.50" y1="617.00" x2="156.50" y2="708.00" stroke="#3c3c3c" stroke-width="1.05" stroke-dasharray="9 3 2 3" stroke-linecap="butt"/>
<line x1="66.50" y1="606.00" x2="66.50" y2="623.00" stroke="#3c3c3c" stroke-width="1.05" stroke-linecap="butt"/>
<line x1="246.60" y1="606.00" x2="246.60" y2="623.00" stroke="#3c3c3c" stroke-width="1.05" stroke-linecap="butt"/>
<line x1="66.50" y1="609.50" x2="246.60" y2="609.50" stroke="#3c3c3c" stroke-width="1.05" stroke-linecap="butt"/>
<polygon points="66.50,609.50 73.70,607.40 73.70,611.60" fill="#1e1e1e" stroke="#1e1e1e" stroke-width="0.35" stroke-linejoin="round"/>
<polygon points="246.60,609.50 239.40,611.60 239.40,607.40" fill="#1e1e1e" stroke="#1e1e1e" stroke-width="0.35" stroke-linejoin="round"/>
<text transform="translate(156.80 606.10) rotate(0) scale(1.02 1)" font-style="normal" text-anchor="middle" font-weight="normal" fill="#2c2c2c" stroke="#2c2c2c" stroke-width="0.25"><tspan font-size="14.15">32.4 </tspan><tspan font-size="12.1">(1.28)</tspan></text>
</svg>
</body></html>
